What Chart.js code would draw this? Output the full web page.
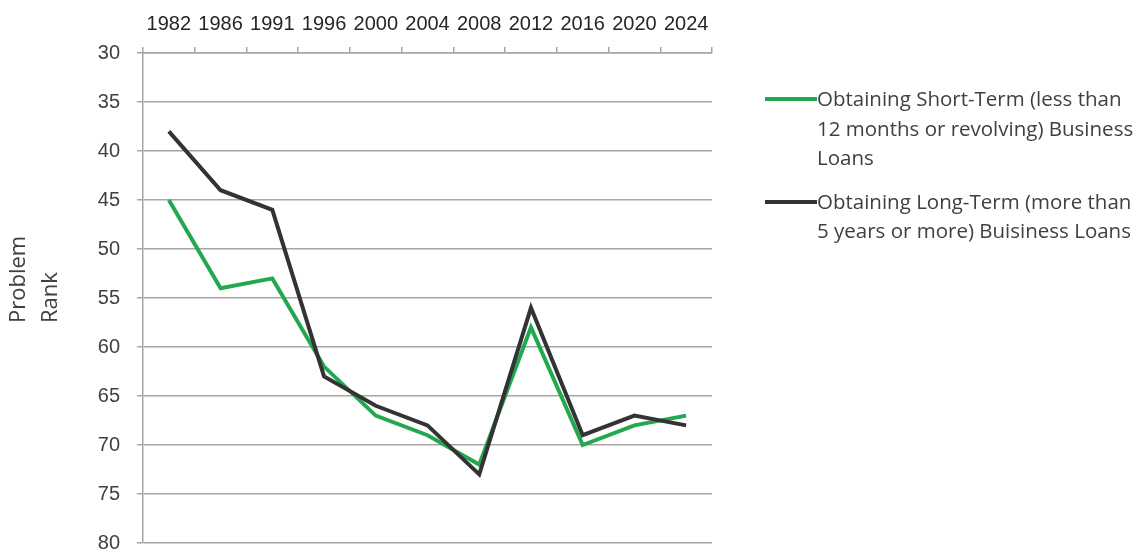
<!DOCTYPE html>
<html lang="en">
<head>
    <meta charset="UTF-8">
    <title>Problem Rank - Business Loans</title>
    <script src="https://cdn.jsdelivr.net/npm/chart.js"></script>
    <style>
        body { margin: 0; background: #fff; overflow: hidden; }
        .wrap { position: relative; width: 1143px; height: 572px; }
        .legend {
            position: absolute; left: 765px; top: 84px;
            font-family: "Open Sans", sans-serif; font-size: 20.5px; color: #404040;
            line-height: 29.5px;
        }
        .legend .item { position: relative; padding-left: 52px; margin-bottom: 14px; }
        .legend .swatch { position: absolute; left: 0; top: 13px; width: 52px; height: 4px; }
    </style>
</head>
<body>
    <div class="wrap">
        <canvas id="rankChart" width="1143" height="572"></canvas>
        <div class="legend" id="legend"></div>
    </div>

    <script>
        // chart data
        const years = ['1982', '1986', '1991', '1996', '2000', '2004', '2008', '2012', '2016', '2020', '2024'];
        const shortTermRank = [45, 54, 53, 62, 67, 69, 72, 58, 70, 68, 67];
        const longTermRank = [38, 44, 46, 63, 66, 68, 73, 56, 69, 67, 68];
        const shortTermLabel = ['Obtaining Short-Term (less than', '12 months or revolving) Business', 'Loans'];
        const longTermLabel = ['Obtaining Long-Term (more than', '5 years or more) Buisiness Loans'];
        const axisTitle = ['Problem', 'Rank'];

        const green = '#22a94f';
        const dark = '#333333';
        const gridGray = '#a6a6a6';
        const textGray = '#404040';

        // rotated two-line y title, drawn by hand so it sits like the original
        const yTitlePlugin = {
            id: 'yTitle',
            afterDraw(chart) {
                const ctx = chart.ctx;
                ctx.save();
                ctx.font = '22px "Open Sans", sans-serif';
                ctx.fillStyle = textGray;
                ctx.textAlign = 'left';
                ctx.textBaseline = 'middle';
                ctx.translate(19, 323);
                ctx.rotate(-Math.PI / 2);
                axisTitle.forEach((line, i) => ctx.fillText(line, 0, i * 32));
                ctx.restore();
            }
        };

        const ctx = document.getElementById('rankChart').getContext('2d');
        new Chart(ctx, {
            type: 'line',
            data: {
                labels: years,
                datasets: [
                    {
                        label: longTermLabel.join(' '),
                        data: longTermRank,
                        borderColor: dark,
                        borderWidth: 4,
                        pointRadius: 0,
                        tension: 0,
                        order: 0
                    },
                    {
                        label: shortTermLabel.join(' '),
                        data: shortTermRank,
                        borderColor: green,
                        borderWidth: 4,
                        pointRadius: 0,
                        tension: 0,
                        order: 1
                    }
                ]
            },
            options: {
                responsive: false,
                animation: false,
                layout: { padding: { right: 431, bottom: 0, left: 0, top: 0 } },
                plugins: { legend: { display: false }, tooltip: { enabled: false } },
                scales: {
                    x: {
                        position: 'top',
                        offset: true,
                        grid: { offset: true, drawOnChartArea: false, tickLength: 6, color: gridGray, lineWidth: 1.5 },
                        border: { color: gridGray, width: 1.5 },
                        ticks: {
                            color: '#262626', padding: 11, maxRotation: 0, autoSkip: false,
                            font: { family: '"Liberation Sans", Arial, sans-serif', size: 20 }
                        },
                        afterFit(scale) { scale.height = 53; }
                    },
                    y: {
                        reverse: true,
                        min: 30,
                        max: 80,
                        grid: { color: gridGray, lineWidth: 1.5, tickLength: 6 },
                        border: { color: gridGray, width: 1.5 },
                        ticks: {
                            stepSize: 5, color: textGray, padding: 17,
                            font: { family: '"Liberation Sans", Arial, sans-serif', size: 20 }
                        },
                        afterFit(scale) { scale.width = 143; }
                    }
                }
            },
            plugins: [yTitlePlugin]
        });

        // legend on the right, wrapped as in the original
        const legendEl = document.getElementById('legend');
        [[green, shortTermLabel], [dark, longTermLabel]].forEach(([color, lines]) => {
            const item = document.createElement('div');
            item.className = 'item';
            item.innerHTML = '<span class="swatch" style="background:' + color + '"></span>' + lines.join('<br>');
            legendEl.appendChild(item);
        });
    </script>
</body>
</html>
